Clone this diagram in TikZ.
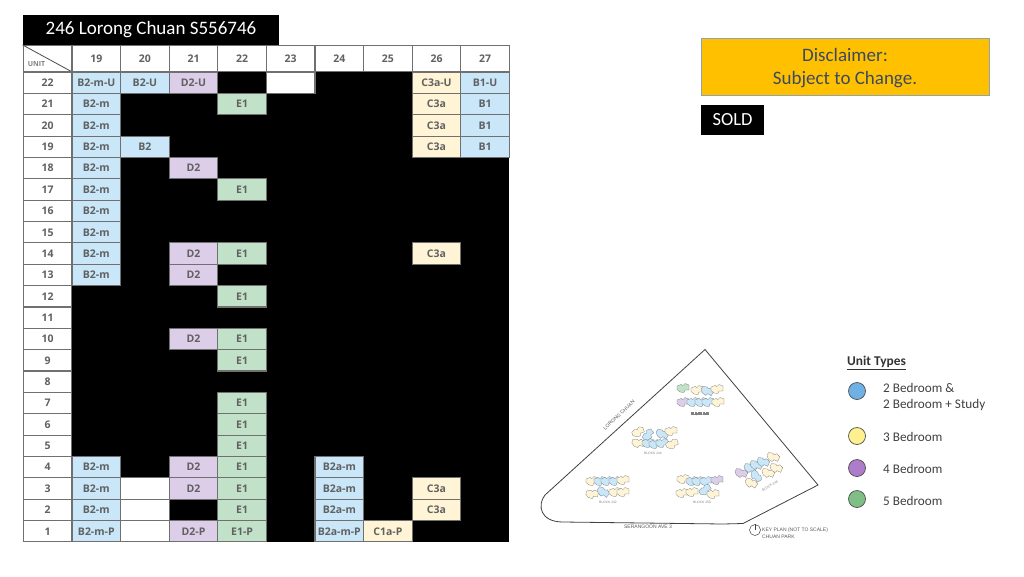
\documentclass[tikz,border=0pt]{standalone}
\usepackage{fontspec}
\setmainfont{Carlito}
\newfontfamily\cellfont{Open Sans}
\newfontfamily\planfont{Liberation Sans}

\definecolor{cellblue}{HTML}{C9E7F8}
\definecolor{cellyellow}{HTML}{FFF5D6}
\definecolor{cellpurple}{HTML}{DCCDE8}
\definecolor{cellgreen}{HTML}{C1E2C9}
\definecolor{gridgrey}{HTML}{707070}
\definecolor{slatetext}{HTML}{3B4A63}
\definecolor{noteamber}{HTML}{FFC000}
\definecolor{noteedge}{HTML}{8FA3B5}
\definecolor{dotblue}{HTML}{6FB1E4}
\definecolor{dotyellow}{HTML}{FFF08F}
\definecolor{dotpurple}{HTML}{AD7CCB}
\definecolor{dotgreen}{HTML}{7FBF85}

\tikzset{
  tablecell/.style={draw=gridgrey, line width=1.1pt, minimum width=48.6pt, minimum height=21.36pt, inner sep=0pt, text height=7.6pt, text depth=0pt, font=\cellfont\bfseries\fontsize{10.5}{10.5}\selectfont, text=black!62},
  headcell/.style={tablecell, minimum height=26pt, fill=white},
  bluecell/.style={tablecell, fill=cellblue},
  yellowcell/.style={tablecell, fill=cellyellow},
  purplecell/.style={tablecell, fill=cellpurple},
  greencell/.style={tablecell, fill=cellgreen},
  whitecell/.style={tablecell, fill=white},
  wingline/.style={draw=black!55, line width=0.25pt},
  legenddot/.style={circle, draw=black!70, line width=0.7pt, minimum size=17pt, inner sep=0pt},
  legendtext/.style={anchor=west, inner sep=0pt, font=\fontsize{13.2}{16}\selectfont, text=black!75, align=left},
  plantext/.style={font=\planfont\fontsize{5}{6.5}\selectfont, text=black!65},
  blocktext/.style={font=\planfont\fontsize{3.3}{3.3}\selectfont, text=black!50}
}

% one wing of a block on the key plan
\newcommand{\planwing}[4]{
  \draw[wingline, fill=#3, shift={(#1,#2)}, rotate=#4] (-6,-2) -- (-2,-3.5) -- (0,-2.5) -- (2,-4.5) -- (6,-3) -- (6,2) -- (2,2) -- (1,4.5) -- (-3,4) -- (-6,1.5) -- cycle;
}

\begin{document}
\begin{tikzpicture}[x=1pt, y=-1pt]
  \useasboundingbox (0,0) rectangle (1024,576);

  % Title bar
  \node[fill=black, text=white, minimum width=256pt, minimum height=30pt, inner sep=0pt, font=\fontsize{19}{19}\selectfont] (title) at (151,30) {246 Lorong Chuan S556746};

  % Sold area behind the units
  \node[fill=black, minimum width=437pt, minimum height=470pt, inner sep=0pt] (sold) at (290.5,307) {};

  % Header row
  \node[headcell] (unit) at (47.5,58.5) {};
  \draw[black!70, line width=0.8pt] (unit.north west) -- (unit.south east);
  \node[inner sep=0pt, font=\cellfont\bfseries\fontsize{7}{7}\selectfont, text=black!50] (unitlabel) at (36.5,64.5) {UNIT};
  \foreach \col in {19,...,27}
    \node[headcell] (h\col) at ({96.3+48.6*(\col-19)},58.5) {\col};

  % Floor numbers
  \foreach \flr in {1,...,22}
    \node[whitecell] (f\flr) at (47.5,{72+21.36*(22.5-\flr)}) {\flr};

  % Units still available
  \foreach \col/\typ/\lab/\flrs in {
    19/bluecell/B2-m-U/{22},
    19/bluecell/B2-m/{21,20,19,18,17,16,15,14,13,4,3,2},
    19/bluecell/B2-m-P/{1},
    20/bluecell/B2-U/{22},
    20/bluecell/B2/{19},
    20/whitecell//{3,2,1},
    21/purplecell/D2-U/{22},
    21/purplecell/D2/{18,14,13,10,4,3},
    21/purplecell/D2-P/{1},
    22/greencell/E1/{21,17,14,12,10,9,7,6,5,4,3,2},
    22/greencell/E1-P/{1},
    23/whitecell//{22},
    24/bluecell/B2a-m/{4,3,2},
    24/bluecell/B2a-m-P/{1},
    25/yellowcell/C1a-P/{1},
    26/yellowcell/C3a-U/{22},
    26/yellowcell/C3a/{21,20,19,14,3,2},
    27/bluecell/B1-U/{22},
    27/bluecell/B1/{21,20,19}}
    \foreach \flr in \flrs
      \node[\typ] (c\col f\flr) at ({96.3+48.6*(\col-19)},{72+21.36*(22.5-\flr)}) {\lab};

  % Notes
  \node[fill=noteamber, draw=noteedge, line width=0.8pt, minimum width=288pt, minimum height=57pt, inner sep=0pt, align=center, text=slatetext, font=\fontsize{19}{23}\selectfont] (disclaimer) at (845,66.5) {\rule{0pt}{17pt}Disclaimer:\\Subject to Change.};
  \node[fill=black, text=white, minimum width=63pt, minimum height=30pt, inner sep=0pt, font=\fontsize{18.5}{18.5}\selectfont] (soldkey) at (732.5,120) {SOLD};

  % Site outline
  \coordinate (apex) at (705,349.5);
  \coordinate (east) at (818,485);
  \coordinate (gate) at (743,523.5);
  \coordinate (notch) at (723,524);
  \coordinate (south) at (563,522);
  \coordinate (west) at (545,495);
  \draw[black!75, line width=0.8pt] (apex) -- (east) -- (gate) -- (notch) -- (south) .. controls (540,522) and (537,505) .. (west) -- cycle;
  \node[plantext, rotate=43] (lorong) at (619,415) {LORONG CHUAN};
  \node[plantext] (serangoon) at (648,527) {SERANGOON AVE 3};

  % Blocks
  \foreach \wx/\wy/\wc/\wr in {683/388/cellgreen/0, 697/390/cellyellow/0, 707/391/cellblue/-30, 717/389/cellyellow/0,
    683/402/cellpurple/0, 693/402/cellblue/0, 701/402/cellblue/0, 708/402/cellblue/0, 718/402/cellyellow/0,
    638/432/cellyellow/20, 648/435/cellblue/40, 662/434/cellblue/-30, 671/431/cellyellow/0,
    638/443/cellyellow/-15, 648/443/cellblue/0, 655/444/cellblue/0, 662/443/cellblue/0, 672/444/cellyellow/15,
    592/481/cellyellow/0, 600/481/cellblue/0, 607/481/cellblue/0, 615/481/cellblue/0, 623/480/cellyellow/0,
    592/494/cellyellow/-10, 603/492/cellblue/-40, 615/492/cellyellow/0, 623/492/cellyellow/0,
    683/479/cellyellow/0, 692/481/cellblue/0, 698/481/cellblue/0, 706/481/cellblue/0, 717/480/cellpurple/0,
    682/493/cellyellow/0, 692/492/cellyellow/0, 705/490/cellblue/30, 713/494/cellyellow/0,
    741/473/cellpurple/-25, 750/468/cellblue/-25, 756/465/cellblue/-25, 763/462/cellblue/-25, 773/457/cellyellow/-25,
    751/483/cellyellow/-35, 756/476/cellblue/-60, 768/473/cellyellow/-25, 776/468/cellyellow/-25}
    \planwing{\wx}{\wy}{\wc}{\wr}
  \node[blocktext] (b246) at (700,414) {BLOCK 246};
  \node[blocktext] (b244) at (653,453) {BLOCK 244};
  \node[blocktext] (b242) at (608,502) {BLOCK 242};
  \node[blocktext] (b250) at (702,502) {BLOCK 250};
  \node[blocktext, rotate=30] (b248) at (770,486) {BLOCK 248};

  % North mark and plan note
  \node[circle, draw=black!75, line width=0.5pt, minimum size=11pt, inner sep=0pt] (north) at (755,530) {};
  \draw[black!75, line width=0.5pt] (north.north) -- (north.center);
  \node[plantext, anchor=west, inner sep=0pt, align=left] (keynote) at (762,533) {KEY PLAN (NOT TO SCALE)\\CHUAN PARK};

  % Legend
  \node[anchor=west, inner sep=0pt, text=black!80, font=\bfseries\fontsize{13.4}{15}\selectfont] (legendtitle) at (847,363) {\underline{Unit Types}};
  \node[legenddot, fill=dotblue] (dot2) at (857,391) {};
  \node[legenddot, fill=dotyellow] (dot3) at (857,436) {};
  \node[legenddot, fill=dotpurple] (dot4) at (857,468) {};
  \node[legenddot, fill=dotgreen] (dot5) at (857,499) {};
  \node[legendtext] (text2) at (883,396.5) {2 Bedroom \&\\2 Bedroom + Study};
  \node[legendtext] (text3) at (883,436.5) {3 Bedroom};
  \node[legendtext] (text4) at (883,468.5) {4 Bedroom};
  \node[legendtext] (text5) at (883,500.5) {5 Bedroom};
\end{tikzpicture}
\end{document}
